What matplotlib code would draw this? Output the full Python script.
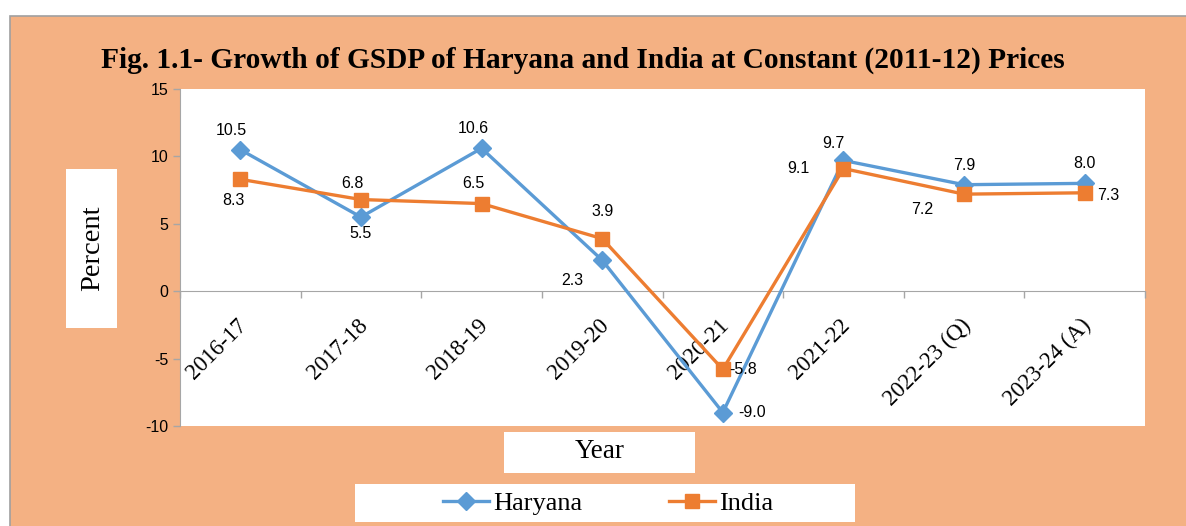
import matplotlib
matplotlib.use("Agg")
import matplotlib.pyplot as plt
from matplotlib.patches import Rectangle
from matplotlib.transforms import ScaledTranslation
import numpy as np

years = ["2016-17", "2017-18", "2018-19", "2019-20", "2020-21",
         "2021-22", "2022-23 (Q)", "2023-24 (A)"]
haryana = [10.5, 5.5, 10.6, 2.3, -9.0, 9.7, 7.9, 8.0]
india = [8.3, 6.8, 6.5, 3.9, -5.8, 9.1, 7.2, 7.3]

# label offsets in pixels (dx, dy)
har_off = [(-9, 19), (0, -16), (-8, 20), (-30, -20), (29, 0), (-10, 17), (0, 19), (0, 20)]
ind_off = [(-7, -21), (-8, 16), (-8, 20), (0, 27), (20, 0), (-45, 0), (-42, -15), (24, -3)]

W, H = 1186, 526
BLUE = "#5B9BD5"
ORANGE = "#ED7D31"
BG = "#F4B183"
SERIF = "Liberation Serif"
SANS = "Liberation Sans"

fig = plt.figure(figsize=(W / 100, H / 100), dpi=100)
fig.patch.set_facecolor("white")


def box(x0, y0, x1, y1, z, **kw):
    # pixel box (top-left origin) -> figure rectangle
    r = Rectangle((x0 / W, 1 - y1 / H), (x1 - x0) / W, (y1 - y0) / H,
                  transform=fig.transFigure, zorder=z, **kw)
    fig.patches.append(r)


box(10, 16, W + 5, H + 5, -5, facecolor=BG, edgecolor="#A0A0A0", linewidth=1.2)
box(66, 169, 117, 328, -4, facecolor="white", edgecolor="none")
box(504, 432, 695, 473, -4, facecolor="white", edgecolor="none")
box(355, 484, 855, 522, -4, facecolor="white", edgecolor="none")

ax = fig.add_axes([180 / W, 1 - 426 / H, 965 / W, (426 - 89) / H])
ax.set_zorder(2)
ax.set_facecolor("white")

x = np.arange(len(years))
ax.plot(x, haryana, color=BLUE, lw=2.4, marker="D", ms=9.5, label="Haryana", zorder=3)
ax.plot(x, india, color=ORANGE, lw=2.4, marker="s", ms=10, label="India", zorder=4)

for xi, v, (dx, dy) in zip(x, haryana, har_off):
    ax.annotate(f"{v:.1f}", (xi, v), xytext=(dx * 0.72, dy * 0.72), textcoords="offset points",
                ha="center", va="center", fontsize=11.5, family=SANS, zorder=5)
for xi, v, (dx, dy) in zip(x, india, ind_off):
    ax.annotate(f"{v:.1f}", (xi, v), xytext=(dx * 0.72, dy * 0.72), textcoords="offset points",
                ha="center", va="center", fontsize=11.5, family=SANS, zorder=5)

ax.set_xlim(-0.5, len(years) - 0.5)
ax.set_ylim(-10, 15)
ax.set_yticks([-10, -5, 0, 5, 10, 15])
ax.set_yticklabels(["-10", "-5", "0", "5", "10", "15"], family=SANS, fontsize=11.5)

for s in ["top", "right"]:
    ax.spines[s].set_visible(False)
ax.spines["left"].set_color("#A6A6A6")
ax.spines["bottom"].set_color("#A6A6A6")
ax.spines["bottom"].set_position(("data", 0))
ax.tick_params(axis="y", colors="#A6A6A6", labelcolor="black", length=5, width=1)

ax.set_xticks(x)
ax.set_xticklabels(years, rotation=45, ha="right", rotation_mode="anchor",
                   family=SERIF, fontsize=16.5)
ax.tick_params(axis="x", which="major", length=0, pad=17)
shift = ScaledTranslation(-4 / 100, 0, fig.dpi_scale_trans)
for lab in ax.get_xticklabels():
    lab.set_transform(lab.get_transform() + shift)
ax.set_xticks(np.arange(len(years) + 1) - 0.5, minor=True)
ax.tick_params(axis="x", which="minor", length=5, color="#A6A6A6", width=1)

fig.text(583 / W, 1 - 60 / H, "Fig. 1.1- Growth of GSDP of Haryana and India at Constant (2011-12) Prices",
         ha="center", va="center", fontsize=21.2, fontweight="bold", family=SERIF)
fig.text(93 / W, 1 - 248 / H, "Percent", rotation=90, ha="center", va="center",
         fontsize=20.5, family=SERIF)
fig.text(600 / W, 1 - 452 / H, "Year", ha="center", va="center",
         fontsize=19.5, family=SERIF)

handles, labels = ax.get_legend_handles_labels()
leg = fig.legend(handles, labels, loc="center", bbox_to_anchor=(608 / W, 1 - 503 / H),
                 ncol=2, frameon=False, prop={"family": SERIF, "size": 19},
                 handlelength=1.75, handletextpad=0.15, columnspacing=3.3)

fig.savefig("out.png", dpi=100)
